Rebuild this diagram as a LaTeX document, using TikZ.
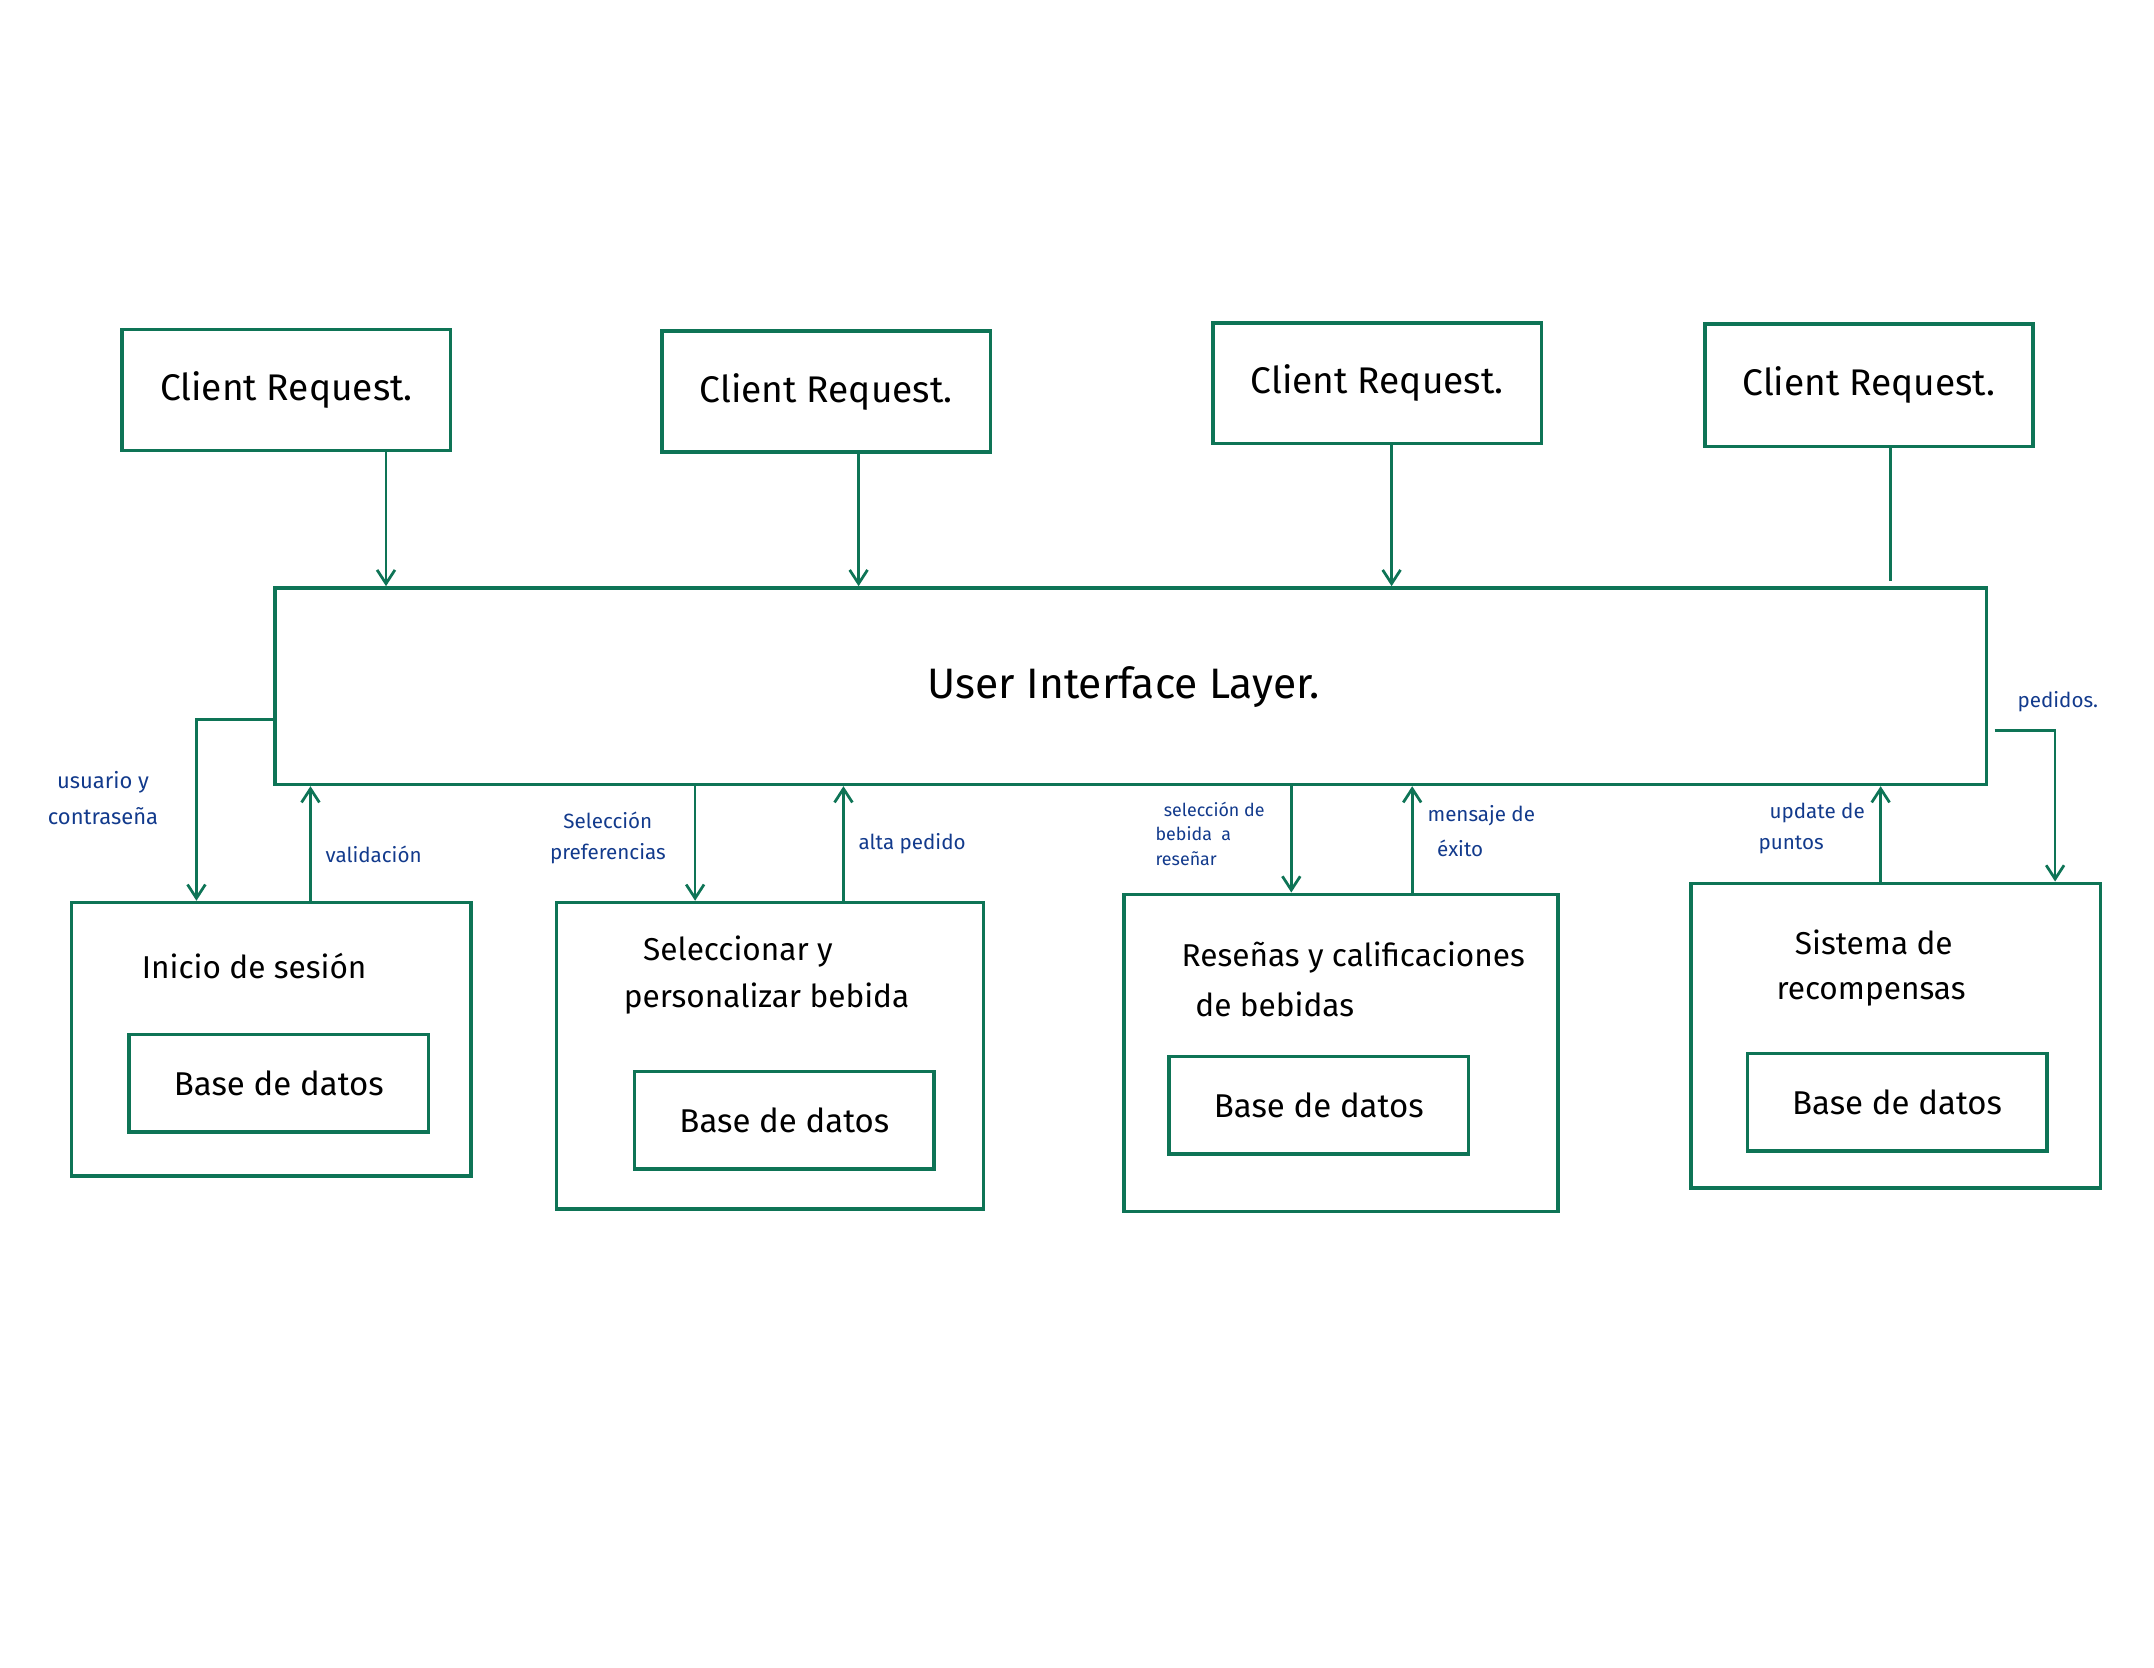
\documentclass[tikz,border=0pt]{standalone}
\usepackage{fontspec}
\setmainfont{Fira Sans}
\usetikzlibrary{arrows.meta,calc}
\definecolor{boxgreen}{RGB}{14,116,86}
\definecolor{labblue}{RGB}{18,58,140}
\tikzset{
  box/.style={draw=boxgreen,line width=2.6pt,minimum width=#1,inner sep=0pt},
  bigtxt/.style={font=\fontsize{27}{30}\selectfont,text=black,inner sep=0pt},
  uitxt/.style={font=\fontsize{31}{34}\selectfont,text=black,inner sep=0pt},
  midtxt/.style={font=\fontsize{23}{30}\selectfont,text=black,inner sep=0pt},
  dbtxt/.style={font=\fontsize{24}{30}\selectfont,text=black,inner sep=0pt},
  lab/.style={font=\fontsize{15}{24}\selectfont,text=labblue,inner sep=0pt},
  conn/.style={draw=boxgreen,line width=2pt},
  arr/.style={conn,-{Straight Barb[length=10pt,width=13pt,line width=2pt]}}
}
\begin{document}
\begin{tikzpicture}[x=1pt,y=-1pt]
\useasboundingbox (0,0) rectangle (1568,1214);
% client requests
\node[box=239pt,minimum height=88pt] (c1) at (208.5,284) {};
\node[box=239pt,minimum height=88pt] (c2) at (601.5,285) {};
\node[box=239pt,minimum height=88pt] (c3) at (1002.5,279) {};
\node[box=239pt,minimum height=89pt] (c4) at (1360.5,280.5) {};
\node[bigtxt] (t1) at (c1) {Client Request.};
\node[bigtxt] (t2) at (c2) {Client Request.};
\node[bigtxt] (t3) at (c3) {Client Request.};
\node[bigtxt] (t4) at (c4) {Client Request.};
% UI layer
\node[box=1246pt,minimum height=143pt] (ui) at (823,499.5) {};
\node[uitxt] (uit) at (818,500) {User Interface Layer.};
% bottom boxes
\node[box=291pt,minimum height=199pt] (ini) at (197.5,756.5) {};
\node[box=218pt,minimum height=71pt] (db1) at (203,788.5) {};
\node[midtxt] (init) at (185,703) {Inicio de sesión};
\node[dbtxt] (db1t) at (db1) {Base de datos};

\node[box=311pt,minimum height=223pt] (sel) at (560.5,768.5) {};
\node[box=218pt,minimum height=71pt] (db2) at (571,815.5) {};
\node[midtxt,anchor=west] (selt1) at (468,693) {Seleccionar y};
\node[midtxt,anchor=west] (selt2) at (454,727) {personalizar bebida};
\node[dbtxt] (db2t) at (db2) {Base de datos};

\node[box=316pt,minimum height=231pt] (res) at (976,766.5) {};
\node[box=218pt,minimum height=71pt] (db3) at (960,804.5) {};
\node[midtxt,anchor=west] (rest1) at (860,697) {Reseñas y calificaciones};
\node[midtxt,anchor=west] (rest2) at (870,731) {de bebidas};
\node[dbtxt] (db3t) at (db3) {Base de datos};

\node[box=298pt,minimum height=222pt] (sis) at (1380,754) {};
\node[box=218pt,minimum height=71pt] (db4) at (1381,802.5) {};
\node[midtxt] (sist1) at (1364,686) {Sistema de};
\node[midtxt] (sist2) at (1362,724) {recompensas};
\node[dbtxt] (db4t) at (db4) {Base de datos};

% client to UI
\draw[arr] (c1.south -| 281,0) -- (ui.north -| 281,0);
\draw[arr] (c2.south -| 625,0) -- (ui.north -| 625,0);
\draw[arr] (c3.south -| 1013,0) -- (ui.north -| 1013,0);
\coordinate (c4end) at (1376,423);
\draw[conn] (c4.south -| c4end) -- (c4end);

% left connectors
\draw[arr] (ui.west |- 0,524) -| (ini.north -| 143,0);
\draw[arr] (ini.north -| 226,0) -- (ui.south -| 226,0);
\node[lab,align=center,font=\fontsize{16}{26}\selectfont] (l1) at (75,581) {usuario y\\contraseña};
\node[lab] (l2) at (272,622) {validación};

\draw[arr] (ui.south -| 506,0) -- (sel.north -| 506,0);
\draw[arr] (sel.north -| 614,0) -- (ui.south -| 614,0);
\node[lab,align=center,font=\fontsize{15}{23}\selectfont] (l3) at (442.5,610) {Selección\\preferencias};
\node[lab] (l4) at (664,614) {alta pedido};

\draw[arr] (ui.south -| 940,0) -- (res.north -| 940,0);
\draw[arr] (res.north -| 1028,0) -- (ui.south -| 1028,0);
\node[lab,align=left,anchor=west,font=\fontsize{13}{18}\selectfont] (l5) at (841,607) {\hspace*{6pt}selección de\\bebida\ \ a\\reseñar};
\node[lab,align=left,anchor=west,font=\fontsize{15}{26}\selectfont] (l6) at (1039,605) {mensaje de\\\hspace*{7pt}éxito};

\draw[arr] (sis.north -| 1369,0) -- (ui.south -| 1369,0);
\node[lab,align=left,anchor=west,font=\fontsize{15}{22}\selectfont] (l7) at (1280,603) {\hspace*{8pt}update de\\puntos};
\coordinate (pstart) at (1452,532);
\draw[arr] (pstart) -| (sis.north -| 1496,0);
\node[lab] (l8) at (1498,511) {pedidos.};
\end{tikzpicture}
\end{document}
